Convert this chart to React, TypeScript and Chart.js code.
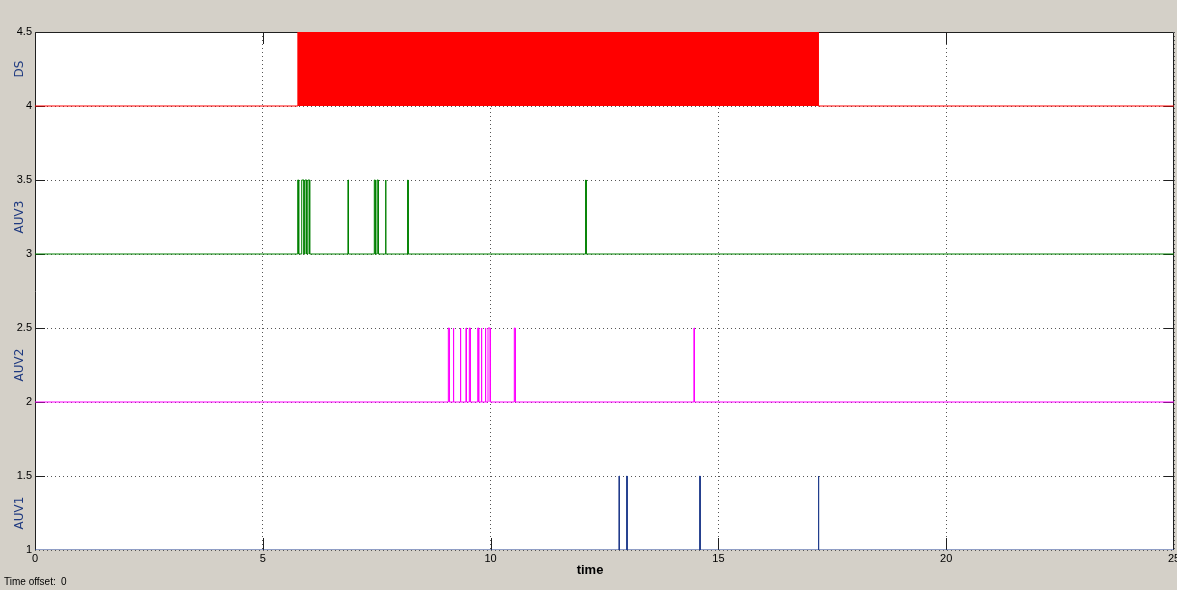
import React, { useEffect, useRef } from "react";
import { Chart, registerables } from "chart.js";

Chart.register(...registerables);

// ---- data ----
const X_TICKS = [0, 5, 10, 15, 20, 25];
const Y_TICKS = [1, 1.5, 2, 2.5, 3, 3.5, 4, 4.5];

const SIGNAL_NAMES = ["DS", "AUV3", "AUV2", "AUV1"];
const SIGNAL_BASES = [4, 3, 2, 1];

const DS_ON = [5.77];
const DS_OFF = [17.19];

const AUV3_ON = [5.766, 5.854, 5.926, 5.992, 6.87, 7.447, 7.507, 7.693, 8.18, 12.087];
const AUV3_OFF = [5.788, 5.904, 5.964, 6.029, 6.88, 7.469, 7.535, 7.703, 8.19, 12.097];

const AUV2_ON = [9.072, 9.181, 9.335, 9.46, 9.533, 9.717, 9.796, 9.884, 9.943, 10.52, 14.464];
const AUV2_OFF = [9.094, 9.191, 9.345, 9.47, 9.555, 9.739, 9.806, 9.894, 9.993, 10.542, 14.474];

const AUV1_ON = [12.818, 12.987, 14.59, 17.193];
const AUV1_OFF = [12.828, 12.997, 14.6, 17.203];

const T_END = 25;
const PULSE_HEIGHT = 0.5;

const COLORS = {
  bg: "#d4d0c8",
  ds: "#ff0000",
  auv3: "#008000",
  auv2: "#ff00ff",
  auv1: "#203c8c",
  label: "#1f3a80",
};

function pulseTrain(base: number, on: number[], off: number[]) {
  const pts: { x: number; y: number }[] = [{ x: 0, y: base }];
  for (let i = 0; i < on.length; i++) {
    pts.push({ x: on[i], y: base });
    pts.push({ x: on[i], y: base + PULSE_HEIGHT });
    pts.push({ x: off[i], y: base + PULSE_HEIGHT });
    pts.push({ x: off[i], y: base });
  }
  pts.push({ x: T_END, y: base });
  return pts;
}

const customDraw = {
  id: "customDraw",
  beforeDraw(chart: any) {
    const { ctx, chartArea: a } = chart;
    ctx.save();
    ctx.fillStyle = COLORS.bg;
    ctx.fillRect(0, 0, chart.width, chart.height);
    ctx.fillStyle = "#ffffff";
    ctx.fillRect(a.left, a.top, a.right - a.left, a.bottom - a.top);
    ctx.restore();
  },
  beforeDatasetsDraw(chart: any) {
    const { ctx, chartArea: a, scales } = chart;
    const xs = scales.x;
    const ys = scales.y;
    ctx.save();
    ctx.strokeStyle = "#202020";
    ctx.lineWidth = 1;
    ctx.beginPath();
    // borders: top, left, right
    ctx.moveTo(a.left + 0.5, a.bottom);
    ctx.lineTo(a.left + 0.5, a.top + 0.5);
    ctx.lineTo(a.right - 0.5, a.top + 0.5);
    ctx.lineTo(a.right - 0.5, a.bottom);
    // inside ticks
    X_TICKS.forEach((v) => {
      if (v <= 0 || v >= T_END) return;
      const px = Math.round(xs.getPixelForValue(v)) + 0.5;
      ctx.moveTo(px, a.top);
      ctx.lineTo(px, a.top + 12);
      ctx.moveTo(px, a.bottom);
      ctx.lineTo(px, a.bottom - 12);
    });
    Y_TICKS.forEach((v) => {
      if (v <= 1 || v >= 4.5) return;
      const py = Math.round(ys.getPixelForValue(v)) + 0.5;
      ctx.moveTo(a.left, py);
      ctx.lineTo(a.left + 10, py);
      ctx.moveTo(a.right, py);
      ctx.lineTo(a.right - 10, py);
    });
    ctx.stroke();
    ctx.restore();
  },
  afterDraw(chart: any) {
    const { ctx, chartArea: a, scales } = chart;
    const xs = scales.x;
    const ys = scales.y;
    ctx.save();
    ctx.fillStyle = "#000000";
    ctx.font = "11px 'Liberation Sans', Arial, sans-serif";
    ctx.textAlign = "right";
    ctx.textBaseline = "middle";
    Y_TICKS.forEach((v) => {
      ctx.fillText(String(v), a.left - 3, ys.getPixelForValue(v));
    });
    ctx.textAlign = "center";
    ctx.textBaseline = "top";
    X_TICKS.forEach((v) => {
      ctx.fillText(String(v), xs.getPixelForValue(v), a.bottom + 3);
    });
    // x title
    ctx.font = "bold 13px 'Liberation Sans', Arial, sans-serif";
    ctx.fillText("time", 590, a.bottom + 14);
    // time offset
    ctx.font = "10px 'Liberation Sans', Arial, sans-serif";
    ctx.textAlign = "left";
    ctx.textBaseline = "middle";
    ctx.fillText("Time offset:", 4, 582);
    ctx.fillText("0", 61, 582);
    // signal names
    ctx.fillStyle = COLORS.label;
    ctx.font = "12px 'DejaVu Sans', sans-serif";
    ctx.textAlign = "center";
    ctx.textBaseline = "middle";
    SIGNAL_NAMES.forEach((name, i) => {
      const cy = ys.getPixelForValue(SIGNAL_BASES[i] + PULSE_HEIGHT / 2);
      ctx.save();
      ctx.translate(20, cy);
      ctx.rotate(-Math.PI / 2);
      ctx.fillText(name, 0, 0);
      ctx.restore();
    });
    ctx.restore();
  },
};

export default function App() {
  const ref = useRef<HTMLCanvasElement | null>(null);
  useEffect(() => {
    if (!ref.current) return;
    const chart = new Chart(ref.current, {
      type: "scatter",
      data: {
        datasets: [
          {
            label: "DS",
            data: pulseTrain(SIGNAL_BASES[0], DS_ON, DS_OFF),
            showLine: true,
            borderColor: COLORS.ds,
            backgroundColor: COLORS.ds,
            borderWidth: 1,
            pointRadius: 0,
            fill: { value: SIGNAL_BASES[0] },
          },
          {
            label: "AUV3",
            data: pulseTrain(SIGNAL_BASES[1], AUV3_ON, AUV3_OFF),
            showLine: true,
            borderColor: COLORS.auv3,
            borderWidth: 1,
            pointRadius: 0,
            fill: false,
          },
          {
            label: "AUV2",
            data: pulseTrain(SIGNAL_BASES[2], AUV2_ON, AUV2_OFF),
            showLine: true,
            borderColor: COLORS.auv2,
            borderWidth: 1,
            pointRadius: 0,
            fill: false,
          },
          {
            label: "AUV1",
            data: pulseTrain(SIGNAL_BASES[3], AUV1_ON, AUV1_OFF),
            showLine: true,
            borderColor: COLORS.auv1,
            borderWidth: 1,
            pointRadius: 0,
            fill: false,
          },
        ],
      },
      options: {
        responsive: false,
        animation: false,
        layout: { padding: { top: 32, right: 3, left: 0, bottom: 0 } },
        plugins: {
          legend: { display: false },
          tooltip: { enabled: false },
        },
        scales: {
          x: {
            type: "linear",
            min: 0,
            max: T_END,
            ticks: { display: false, stepSize: 5 },
            grid: {
              color: "#555555",
              lineWidth: 1,
              drawTicks: false,
            },
            border: { display: false, dash: [1, 3] },
            afterFit: (s: any) => {
              s.height = 40;
            },
          },
          y: {
            type: "linear",
            min: 1,
            max: 4.5,
            ticks: { display: false, stepSize: 0.5 },
            grid: {
              color: "#555555",
              lineWidth: 1,
              drawTicks: false,
            },
            border: { display: false, dash: [1, 3] },
            afterFit: (s: any) => {
              s.width = 35;
            },
          },
        },
      } as any,
      plugins: [customDraw],
    });
    return () => chart.destroy();
  }, []);
  return (
    <div style={{ position: "absolute", left: 0, top: 0, width: 1177, height: 590 }}>
      <canvas ref={ref} width={1177} height={590} style={{ display: "block" }} />
    </div>
  );
}
